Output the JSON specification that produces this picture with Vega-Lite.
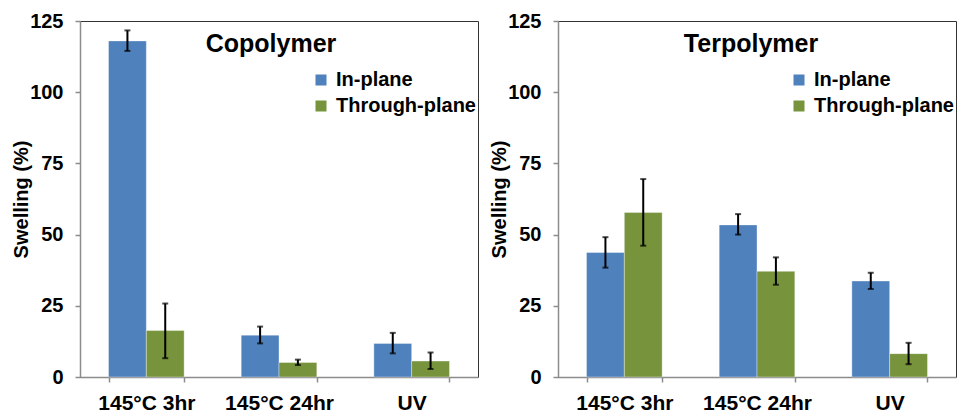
{
  "$schema": "https://vega.github.io/schema/vega-lite/v6.json",
  "padding": {"left": 11, "top": 10, "right": 0, "bottom": 0},
  "config": {
    "font": "Liberation Sans",
    "view": {"stroke": "#333333", "strokeWidth": 1},
    "concat": {"spacing": 10},
    "axis": {
      "labelFont": "Liberation Sans",
      "labelFontSize": 20,
      "labelFontWeight": "bold",
      "labelColor": "#000000",
      "titleFont": "Liberation Sans",
      "titleFontSize": 20,
      "titleFontWeight": "bold",
      "titleColor": "#000000",
      "domainColor": "#8c8c8c",
      "domainWidth": 1.5,
      "tickColor": "#8c8c8c",
      "tickWidth": 1.5,
      "tickSize": 5,
      "grid": false,
      "zindex": 1
    },
    "legend": {
      "labelFont": "Liberation Sans",
      "labelFontSize": 20,
      "labelFontWeight": "bold",
      "labelColor": "#000000",
      "symbolType": "square",
      "symbolSize": 121,
      "symbolStrokeWidth": 0,
      "rowPadding": 6,
      "labelOffset": 5
    },
    "title": {"font": "Liberation Sans", "fontSize": 25, "fontWeight": "bold", "color": "#000000"}
  },
  "datasets": {
    "swelling": [
      {"polymer": "Copolymer", "treatment": "145°C 3hr", "direction": "In-plane", "value": 118, "lo": 114.5, "hi": 121.7},
      {"polymer": "Copolymer", "treatment": "145°C 3hr", "direction": "Through-plane", "value": 16.3, "lo": 6.6, "hi": 25.8},
      {"polymer": "Copolymer", "treatment": "145°C 24hr", "direction": "In-plane", "value": 14.7, "lo": 11.8, "hi": 17.7},
      {"polymer": "Copolymer", "treatment": "145°C 24hr", "direction": "Through-plane", "value": 5.1, "lo": 4.2, "hi": 6.1},
      {"polymer": "Copolymer", "treatment": "UV", "direction": "In-plane", "value": 11.8, "lo": 8.3, "hi": 15.5},
      {"polymer": "Copolymer", "treatment": "UV", "direction": "Through-plane", "value": 5.6, "lo": 2.8, "hi": 8.6},
      {"polymer": "Terpolymer", "treatment": "145°C 3hr", "direction": "In-plane", "value": 43.7, "lo": 38.4, "hi": 49.1},
      {"polymer": "Terpolymer", "treatment": "145°C 3hr", "direction": "Through-plane", "value": 57.8, "lo": 46.1, "hi": 69.5},
      {"polymer": "Terpolymer", "treatment": "145°C 24hr", "direction": "In-plane", "value": 53.4, "lo": 50.0, "hi": 57.2},
      {"polymer": "Terpolymer", "treatment": "145°C 24hr", "direction": "Through-plane", "value": 37.1, "lo": 32.4, "hi": 42.0},
      {"polymer": "Terpolymer", "treatment": "UV", "direction": "In-plane", "value": 33.7, "lo": 30.9, "hi": 36.6},
      {"polymer": "Terpolymer", "treatment": "UV", "direction": "Through-plane", "value": 8.2, "lo": 4.5, "hi": 12.0}
    ]
  },
  "resolve": {"legend": {"color": "independent"}},
  "hconcat": [
    {
      "width": 398,
      "height": 356,
      "title": {"text": "Copolymer", "anchor": "middle", "dy": 50, "dx": -8},
      "data": {"name": "swelling"},
      "transform": [{"filter": "datum.polymer === 'Copolymer'"}],
      "encoding": {
        "x": {"field": "treatment", "type": "nominal", "sort": ["145°C 3hr", "145°C 24hr", "UV"],
          "scale": {"paddingInner": 0.43, "paddingOuter": 0.215},
          "axis": {"title": null, "labelAngle": 0, "tickBand": "extent", "labelPadding": 10, "labelFontSize": 21}},
        "xOffset": {"field": "direction", "type": "nominal", "sort": ["In-plane", "Through-plane"], "scale": {"paddingInner": 0, "paddingOuter": 0}}
      },
      "layer": [
        {
          "mark": {"type": "bar", "stroke": "#ffffff", "strokeWidth": 0.6, "strokeOpacity": 0.6},
          "encoding": {
            "y": {"field": "value", "type": "quantitative", "scale": {"domain": [0, 125], "nice": false},
              "axis": {"title": "Swelling (%)", "values": [0, 25, 50, 75, 100, 125], "labelPadding": 12, "titlePadding": -2}},
            "color": {"field": "direction", "type": "nominal", "sort": ["In-plane", "Through-plane"],
              "scale": {"domain": ["In-plane", "Through-plane"], "range": ["#4f81bd", "#77933c"]},
              "legend": {"title": null, "orient": "none", "legendX": 231, "legendY": 49}}
          }
        },
        {
          "mark": {"type": "rule", "color": "#000000", "strokeWidth": 2},
          "encoding": {"y": {"field": "lo", "type": "quantitative"}, "y2": {"field": "hi"}}
        },
        {
          "mark": {"type": "tick", "color": "#000000", "thickness": 2, "size": 6, "orient": "horizontal"},
          "encoding": {"y": {"field": "hi", "type": "quantitative"}}
        },
        {
          "mark": {"type": "tick", "color": "#000000", "thickness": 2, "size": 6, "orient": "horizontal"},
          "encoding": {"y": {"field": "lo", "type": "quantitative"}}
        }
      ]
    },
    {
      "width": 398,
      "height": 356,
      "title": {"text": "Terpolymer", "anchor": "middle", "dy": 50, "dx": -6},
      "data": {"name": "swelling"},
      "transform": [{"filter": "datum.polymer === 'Terpolymer'"}],
      "encoding": {
        "x": {"field": "treatment", "type": "nominal", "sort": ["145°C 3hr", "145°C 24hr", "UV"],
          "scale": {"paddingInner": 0.43, "paddingOuter": 0.215},
          "axis": {"title": null, "labelAngle": 0, "tickBand": "extent", "labelPadding": 10, "labelFontSize": 21}},
        "xOffset": {"field": "direction", "type": "nominal", "sort": ["In-plane", "Through-plane"], "scale": {"paddingInner": 0, "paddingOuter": 0}}
      },
      "layer": [
        {
          "mark": {"type": "bar", "stroke": "#ffffff", "strokeWidth": 0.6, "strokeOpacity": 0.6},
          "encoding": {
            "y": {"field": "value", "type": "quantitative", "scale": {"domain": [0, 125], "nice": false},
              "axis": {"title": "Swelling (%)", "values": [0, 25, 50, 75, 100, 125], "labelPadding": 12, "titlePadding": -2}},
            "color": {"field": "direction", "type": "nominal", "sort": ["In-plane", "Through-plane"],
              "scale": {"domain": ["In-plane", "Through-plane"], "range": ["#4f81bd", "#77933c"]},
              "legend": {"title": null, "orient": "none", "legendX": 231, "legendY": 49}}
          }
        },
        {
          "mark": {"type": "rule", "color": "#000000", "strokeWidth": 2},
          "encoding": {"y": {"field": "lo", "type": "quantitative"}, "y2": {"field": "hi"}}
        },
        {
          "mark": {"type": "tick", "color": "#000000", "thickness": 2, "size": 6, "orient": "horizontal"},
          "encoding": {"y": {"field": "hi", "type": "quantitative"}}
        },
        {
          "mark": {"type": "tick", "color": "#000000", "thickness": 2, "size": 6, "orient": "horizontal"},
          "encoding": {"y": {"field": "lo", "type": "quantitative"}}
        }
      ]
    }
  ]
}
